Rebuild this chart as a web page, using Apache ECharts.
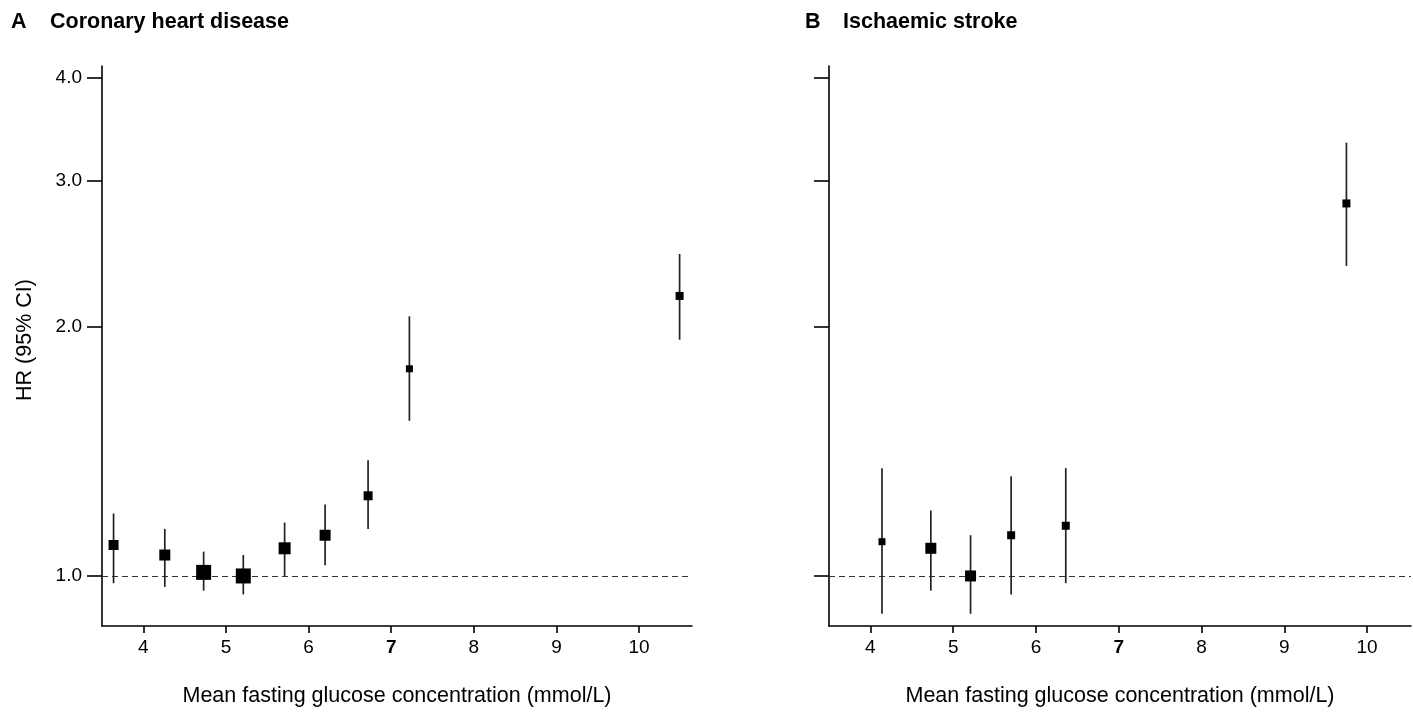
<!DOCTYPE html>
<html>
<head>
<meta charset="utf-8">
<script src="https://cdn.jsdelivr.net/npm/echarts@6/dist/echarts.min.js"></script>
<style>
  html, body { margin: 0; padding: 0; background: #ffffff; }
  #chart { width: 1413px; height: 712px; }
</style>
</head>
<body>
<div id="chart"></div>
<script>
// Hazard ratios by fifths/bands of mean fasting glucose, with 95% CIs.

// Panel A: coronary heart disease
const chdGlucose = [3.64, 4.26, 4.73, 5.21, 5.71, 6.20, 6.72, 7.22, 10.49];
const chdHR      = [1.09, 1.06, 1.01, 1.00, 1.08, 1.12, 1.25, 1.78, 2.18];
const chdLower   = [0.98, 0.97, 0.96, 0.95, 1.00, 1.03, 1.14, 1.54, 1.93];
const chdUpper   = [1.19, 1.14, 1.07, 1.06, 1.16, 1.22, 1.38, 2.06, 2.45];

// Panel B: ischaemic stroke
const strokeGlucose = [4.14, 4.73, 5.21, 5.70, 6.36, 9.75];
const strokeHR      = [1.10, 1.08, 1.00, 1.12, 1.15, 2.82];
const strokeLower   = [0.90, 0.96, 0.90, 0.95, 0.98, 2.37];
const strokeUpper   = [1.35, 1.20, 1.12, 1.32, 1.35, 3.34];

// Box side lengths (px), proportional to the precision of each estimate
const chdBoxPx    = [10, 11, 15, 15, 12, 11, 9, 7, 8];
const strokeBoxPx = [7, 11, 11, 8, 8, 8];

// Tick labels
const glucoseTicks = [4, 5, 6, 7, 8, 9, 10];
const hrTicks = [1, 2, 3, 4];

const FONT = 'Arial, "Liberation Sans", Helvetica, sans-serif';
const log10 = Math.log10;

const chart = echarts.init(document.getElementById('chart'), null, { renderer: 'canvas' });

function ciRenderer(params, api) {
  const x = api.value(0);
  const lo = api.coord([x, api.value(1)]);
  const hi = api.coord([x, api.value(2)]);
  return {
    type: 'line',
    shape: { x1: lo[0], y1: lo[1], x2: hi[0], y2: hi[1] },
    style: { stroke: '#222222', lineWidth: 1.7 }
  };
}

function panelSeries(idx, glucose, hr, lower, upper, boxPx) {
  return [
    {
      type: 'custom',
      xAxisIndex: idx, yAxisIndex: idx,
      renderItem: ciRenderer,
      encode: { x: 0, y: [1, 2] },
      data: glucose.map((g, i) => [g, log10(lower[i]), log10(upper[i])]),
      silent: true, z: 2
    },
    {
      type: 'scatter',
      xAxisIndex: idx, yAxisIndex: idx,
      symbol: 'rect',
      symbolSize: (val, p) => boxPx[p.dataIndex],
      itemStyle: { color: '#000000', opacity: 1 },
      data: glucose.map((g, i) => [g, log10(hr[i])]),
      silent: true, z: 3,
      markLine: {
        silent: true,
        symbol: ['none', 'none'],
        label: { show: false },
        lineStyle: { type: [6, 4], color: '#333333', width: 1.2 },
        data: [{ yAxis: 0 }],
        z: 1
      }
    }
  ];
}

function xAxisFor(idx, max) {
  return {
    type: 'value', gridIndex: idx,
    min: 3.5, max: max,
    name: 'Mean fasting glucose concentration (mmol/L)',
    nameLocation: 'middle', nameGap: 59,
    nameTextStyle: { fontFamily: FONT, fontSize: 21.5, color: '#000' },
    axisLine: { show: true, onZero: false, lineStyle: { color: '#000', width: 1.6 } },
    axisTick: { show: true, length: 7, customValues: glucoseTicks, lineStyle: { color: '#000', width: 1.6 } },
    axisLabel: {
      customValues: glucoseTicks, margin: 12,
      formatter: v => (v === 7 ? '{b|' + v + '}' : '{n|' + v + '}'),
      rich: {
        n: { fontFamily: FONT, fontSize: 19, color: '#000' },
        b: { fontFamily: FONT, fontSize: 19, color: '#000', fontWeight: 'bold' }
      }
    },
    splitLine: { show: false }
  };
}

function yAxisFor(idx, withLabels) {
  return {
    type: 'value', gridIndex: idx,
    min: log10(0.87), max: log10(4.134),
    name: withLabels ? 'HR (95% CI)' : '',
    nameLocation: 'middle', nameGap: 66, nameRotate: 90,
    nameTextStyle: { fontFamily: FONT, fontSize: 21.5, color: '#000', padding: [0, 0, 0, 12] },
    axisLine: { show: true, onZero: false, lineStyle: { color: '#000', width: 1.6 } },
    axisTick: { show: true, length: 15, customValues: hrTicks.map(log10), lineStyle: { color: '#000', width: 1.6 } },
    axisLabel: {
      show: withLabels,
      customValues: hrTicks.map(log10), margin: 20,
      fontFamily: FONT, fontSize: 19, color: '#000',
      formatter: v => Math.pow(10, v).toFixed(1)
    },
    splitLine: { show: false }
  };
}

const titleStyle = { fontFamily: FONT, fontSize: 21.5, fontWeight: 'bold', color: '#000' };

chart.setOption({
  animation: false,
  backgroundColor: '#ffffff',
  title: [
    { text: 'A', left: 6, top: 6, textStyle: titleStyle },
    { text: 'Coronary heart disease', left: 45, top: 6, textStyle: titleStyle },
    { text: 'B', left: 800, top: 6, textStyle: titleStyle },
    { text: 'Ischaemic stroke', left: 838, top: 6, textStyle: titleStyle }
  ],
  grid: [
    { left: 102, top: 66, width: 590, bottom: 86, outerBoundsMode: 'none' },
    { left: 829, top: 66, width: 582, bottom: 86, outerBoundsMode: 'none' }
  ],
  xAxis: [xAxisFor(0, 10.64), xAxisFor(1, 10.53)],
  yAxis: [yAxisFor(0, true), yAxisFor(1, false)],
  series: [
    ...panelSeries(0, chdGlucose, chdHR, chdLower, chdUpper, chdBoxPx),
    ...panelSeries(1, strokeGlucose, strokeHR, strokeLower, strokeUpper, strokeBoxPx)
  ]
});
</script>
</body>
</html>
